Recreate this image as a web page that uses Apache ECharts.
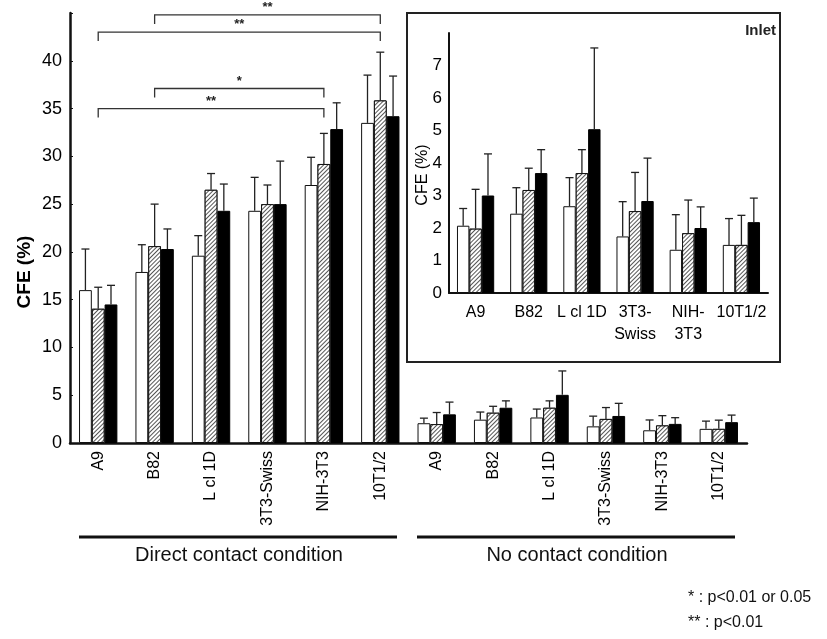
<!DOCTYPE html>
<html>
<head>
<meta charset="utf-8">
<script src="https://cdn.jsdelivr.net/npm/echarts@6/dist/echarts.min.js"></script>
<style>
html, body { margin: 0; padding: 0; background: #fff; }
#chart { width: 827px; height: 639px; }
</style>
</head>
<body>
<div id="chart"></div>
<script>
var myChart = echarts.init(document.getElementById('chart'));

// cell lines
var categories = ['A9', 'B82', 'L cl 1D', '3T3-Swiss', 'NIH-3T3', '10T1/2'];
var insetCategories = ['A9', 'B82', 'L cl 1D', '3T3-\nSwiss', 'NIH-\n3T3', '10T1/2'];

// direct contact condition: mean and SD
var directOpen = [16.0, 17.9, 19.6, 24.3, 27.0, 33.5];
var directOpenSd = [4.3, 2.85, 2.1, 3.5, 2.9, 5.0];
var directHatched = [14.05, 20.6, 26.5, 25.0, 29.2, 35.85];
var directHatchedSd = [2.25, 4.4, 1.7, 2.0, 3.2, 5.05];
var directFilled = [14.5, 20.3, 24.3, 25.0, 32.85, 34.2];
var directFilledSd = [2.0, 2.1, 2.8, 4.5, 2.75, 4.2];

// no contact condition: mean and SD
var noOpen = [2.07, 2.44, 2.67, 1.74, 1.33, 1.48];
var noOpenSd = [0.53, 0.8, 0.88, 1.07, 1.08, 0.81];
var noHatched = [1.98, 3.17, 3.69, 2.52, 1.84, 1.48];
var noHatchedSd = [1.21, 0.67, 0.72, 1.19, 1.02, 0.91];
var noFilled = [3.0, 3.69, 5.04, 2.83, 2.0, 2.18];
var noFilledSd = [1.28, 0.72, 2.5, 1.32, 0.65, 0.74];

// significance brackets: [from category, to category, y level, label]
var brackets = [
    [1, 5, 44.8, '**'],
    [0, 5, 43.0, '**'],
    [1, 4, 37.1, '*'],
    [0, 4, 35.0, '**']
];

var FONT = "'Liberation Sans', Arial, sans-serif";
var mainGap = 0.32, insetGap = 0.30;

var mainCats = categories.concat(categories);
var mainOpen = directOpen.concat(noOpen);
var mainHatched = directHatched.concat(noHatched);
var mainFilled = directFilled.concat(noFilled);
var mainOpenSd = directOpenSd.concat(noOpenSd);
var mainHatchedSd = directHatchedSd.concat(noHatchedSd);
var mainFilledSd = directFilledSd.concat(noFilledSd);

var hatch = {
    symbol: 'rect', symbolSize: 1,
    dashArrayX: [1, 0], dashArrayY: [1, 2],
    rotation: -Math.PI / 4,
    color: '#555', backgroundColor: '#fff'
};

function errData(means, sds) {
    return means.map(function (m, i) { return [i, m, sds[i]]; });
}

function errRender(idx, gap) {
    return function (params, api) {
        var base = api.coord([api.value(0), api.value(1)]);
        var top = api.coord([api.value(0), api.value(1) + api.value(2)]);
        var band = api.size([1, 0])[0];
        var groupW = band * (1 - gap);
        var barW = groupW / 3;
        var x = base[0] - groupW / 2 + barW * (idx + 0.5);
        var st = { stroke: '#222', lineWidth: 1.3 };
        return {
            type: 'group',
            children: [
                { type: 'line', shape: { x1: x, y1: base[1], x2: x, y2: top[1] }, style: st },
                { type: 'line', shape: { x1: x - 4, y1: top[1], x2: x + 4, y2: top[1] }, style: st }
            ]
        };
    };
}

function barSeries(name, data, ax, gap, style) {
    return {
        name: name, type: 'bar', data: data,
        xAxisIndex: ax, yAxisIndex: ax,
        barGap: '0%', barCategoryGap: (gap * 100) + '%',
        itemStyle: style
    };
}

function errSeries(means, sds, idx, ax, gap) {
    return {
        type: 'custom', xAxisIndex: ax, yAxisIndex: ax, clip: false, z: 3,
        data: errData(means, sds), encode: { x: 0, y: 1 },
        renderItem: errRender(idx, gap)
    };
}

var openStyle = { color: '#fff', borderColor: '#111', borderWidth: 1 };
var hatchStyle = { color: '#fff', borderColor: '#111', borderWidth: 1, decal: hatch };
var filledStyle = { color: '#000', borderColor: '#000', borderWidth: 1 };

var option = {
    animation: false,
    backgroundColor: '#fff',
    textStyle: { fontFamily: FONT },
    grid: [
        { left: 70, right: 80, top: 13, bottom: 196 },
        { left: 449, right: 59, top: 33, bottom: 346 }
    ],
    xAxis: [
        {
            type: 'category', gridIndex: 0, data: mainCats,
            axisLine: { lineStyle: { color: '#111', width: 2.5 } },
            axisTick: { show: false },
            axisLabel: { rotate: 90, interval: 0, margin: 8, fontSize: 16, color: '#000', fontFamily: FONT }
        },
        {
            type: 'category', gridIndex: 1, data: insetCategories,
            axisLine: { lineStyle: { color: '#111', width: 2 } },
            axisTick: { show: false },
            axisLabel: { interval: 0, margin: 9, fontSize: 16, lineHeight: 22, color: '#000', fontFamily: FONT }
        }
    ],
    yAxis: [
        {
            type: 'value', gridIndex: 0, min: 0, max: 45, interval: 5,
            splitLine: { show: false },
            axisLine: { show: true, lineStyle: { color: '#111', width: 2.5 } },
            axisTick: { show: true, inside: true, length: 3, lineStyle: { color: '#111' } },
            axisLabel: {
                margin: 8, fontSize: 18, color: '#000', fontFamily: FONT,
                formatter: function (v) { return v === 45 ? '' : v; }
            }
        },
        {
            type: 'value', gridIndex: 1, min: 0, max: 8, interval: 1,
            splitLine: { show: false },
            axisLine: { show: true, lineStyle: { color: '#111', width: 2 } },
            axisTick: { show: false },
            axisLabel: {
                margin: 7, fontSize: 17, color: '#000', fontFamily: FONT,
                formatter: function (v) { return v === 8 ? '' : v; }
            }
        }
    ],
    series: [
        barSeries('open', mainOpen, 0, mainGap, openStyle),
        barSeries('hatched', mainHatched, 0, mainGap, hatchStyle),
        barSeries('filled', mainFilled, 0, mainGap, filledStyle),
        errSeries(mainOpen, mainOpenSd, 0, 0, mainGap),
        errSeries(mainHatched, mainHatchedSd, 1, 0, mainGap),
        errSeries(mainFilled, mainFilledSd, 2, 0, mainGap),
        barSeries('open', noOpen, 1, insetGap, openStyle),
        barSeries('hatched', noHatched, 1, insetGap, hatchStyle),
        barSeries('filled', noFilled, 1, insetGap, filledStyle),
        errSeries(noOpen, noOpenSd, 0, 1, insetGap),
        errSeries(noHatched, noHatchedSd, 1, 1, insetGap),
        errSeries(noFilled, noFilledSd, 2, 1, insetGap),
        {
            type: 'custom', xAxisIndex: 0, yAxisIndex: 0, clip: false, z: 4,
            data: brackets, encode: { x: 0, y: 2 },
            renderItem: function (params, api) {
                var a = api.coord([api.value(0), api.value(2)]);
                var b = api.coord([api.value(1), api.value(2)]);
                var drop = 9;
                return {
                    type: 'group',
                    children: [
                        {
                            type: 'polyline',
                            shape: { points: [[a[0], a[1] + drop], [a[0], a[1]], [b[0], b[1]], [b[0], b[1] + drop]] },
                            style: { stroke: '#333', lineWidth: 1.3, fill: null }
                        },
                        {
                            type: 'text',
                            style: {
                                text: brackets[params.dataIndex][3],
                                x: (a[0] + b[0]) / 2, y: a[1] - 1,
                                align: 'center', verticalAlign: 'bottom',
                                font: 'bold 13px ' + FONT, fill: '#222'
                            }
                        }
                    ]
                };
            }
        }
    ],
    graphic: [
        {
            type: 'rect', z: 0,
            shape: { x: 407, y: 13, width: 373, height: 349 },
            style: { fill: null, stroke: '#222', lineWidth: 2 }
        },
        {
            type: 'text', x: 776, y: 31,
            style: { text: 'Inlet', font: 'bold 15px ' + FONT, fill: '#222', align: 'right', verticalAlign: 'middle' }
        },
        {
            type: 'text', x: 25, y: 272, rotation: Math.PI / 2,
            style: { text: 'CFE (%)', font: 'bold 19px ' + FONT, fill: '#000', align: 'center', verticalAlign: 'middle' }
        },
        {
            type: 'text', x: 423, y: 175, rotation: Math.PI / 2,
            style: { text: 'CFE (%)', font: '16px ' + FONT, fill: '#000', align: 'center', verticalAlign: 'middle' }
        },
        {
            type: 'line', shape: { x1: 79, y1: 537, x2: 397, y2: 537 },
            style: { stroke: '#111', lineWidth: 3 }
        },
        {
            type: 'line', shape: { x1: 417, y1: 537, x2: 735, y2: 537 },
            style: { stroke: '#111', lineWidth: 3 }
        },
        {
            type: 'text', x: 239, y: 555,
            style: { text: 'Direct contact condition', font: '20px ' + FONT, fill: '#111', align: 'center', verticalAlign: 'middle' }
        },
        {
            type: 'text', x: 577, y: 555,
            style: { text: 'No contact condition', font: '20px ' + FONT, fill: '#111', align: 'center', verticalAlign: 'middle' }
        },
        {
            type: 'text', x: 688, y: 598,
            style: { text: '* : p<0.01 or 0.05', font: '16px ' + FONT, fill: '#111', align: 'left', verticalAlign: 'middle' }
        },
        {
            type: 'text', x: 688, y: 623,
            style: { text: '** : p<0.01', font: '16px ' + FONT, fill: '#111', align: 'left', verticalAlign: 'middle' }
        }
    ]
};

myChart.setOption(option);
</script>
</body>
</html>
